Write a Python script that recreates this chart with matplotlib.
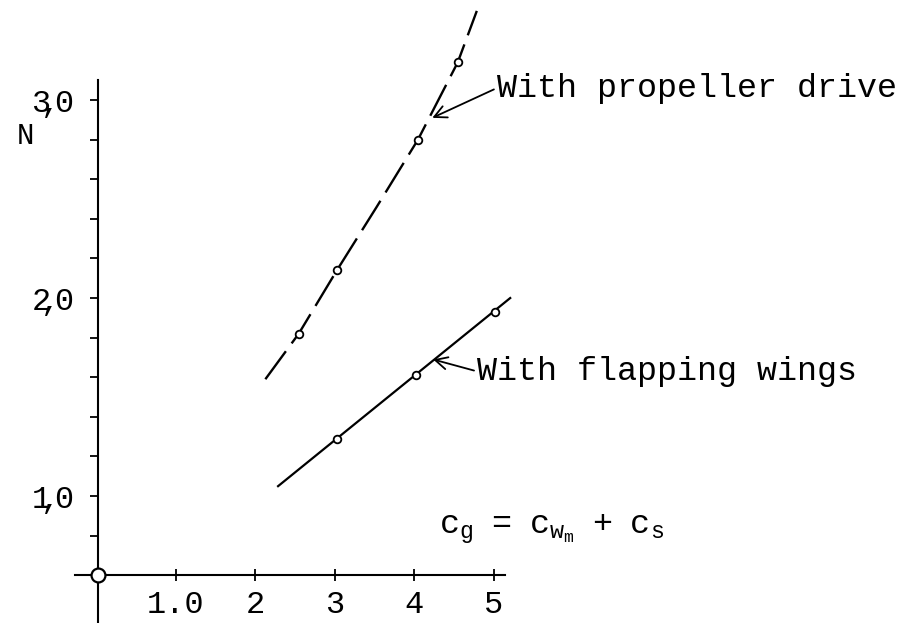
import matplotlib
matplotlib.use("Agg")
import matplotlib.pyplot as plt

plt.rcParams['font.family'] = ['Liberation Mono', 'DejaVu Sans Mono']
plt.rcParams['mathtext.fontset'] = 'custom'
plt.rcParams['mathtext.rm'] = 'Liberation Mono'
plt.rcParams['mathtext.it'] = 'Liberation Mono'
plt.rcParams['lines.scale_dashes'] = False

# with propeller drive (dashed curve), measured points and traced curve
prop_x = [2.55, 3.03, 4.05, 4.55]
prop_y = [1.82, 2.14, 2.80, 3.19]
prop_curve_x = [2.13, 2.55, 3.03, 3.53, 4.05, 4.55, 4.79]
prop_curve_y = [1.59, 1.82, 2.14, 2.46, 2.80, 3.19, 3.45]

# with flapping wings (solid line)
flap_x = [3.03, 4.03, 5.02]
flap_y = [1.29, 1.61, 1.93]
flap_line_x = [2.29, 5.21]
flap_line_y = [1.05, 2.00]

xticks = [1, 2, 3, 4, 5]
xtick_labels = ['1.0', '2', '3', '4', '5']
yticks = [1, 2, 3]
ytick_labels = [r'$\mathrm{1\!\!\!,\!\!\!0}$', r'$\mathrm{2\!\!\!,\!\!\!0}$', r'$\mathrm{3\!\!\!,\!\!\!0}$']
yminor = [0.8, 1.2, 1.4, 1.6, 1.8, 2.2, 2.4, 2.6, 2.8]

x0, y0 = 0.03, 0.6   # where the axes cross

fig = plt.figure(figsize=(9.13, 6.23), dpi=100)
ax = fig.add_axes([0, 0, 1, 1])
ax.set_xlim(-1.208, 10.277)
ax.set_ylim(0.359, 3.505)

# axes through the crossing point
for side in ['top', 'right']:
    ax.spines[side].set_visible(False)
ax.spines['left'].set_position(('data', x0))
ax.spines['bottom'].set_position(('data', y0))
ax.spines['left'].set_bounds(0.36, 3.10)
ax.spines['bottom'].set_bounds(-0.26, 5.14)
ax.spines['left'].set_linewidth(1.5)
ax.spines['bottom'].set_linewidth(1.5)

ax.set_xticks(xticks, labels=xtick_labels)
ax.set_yticks(yticks, labels=ytick_labels)
ax.set_yticks(yminor, minor=True)
ax.tick_params(axis='x', direction='inout', length=9, width=1.3, pad=6, labelsize=23)
ax.tick_params(axis='y', which='both', direction='out', length=6, width=1.3, pad=12, labelsize=23)

ax.plot([x0], [y0], 'o', ms=10, mfc='white', mec='black', mew=1.6, clip_on=False, zorder=5)

# curves
ax.plot(prop_curve_x, prop_curve_y, color='black', lw=1.7, dashes=(25, 7))
ax.plot(prop_x, prop_y, 'o', ms=5.5, mfc='white', mec='black', mew=1.3)
ax.plot(flap_line_x, flap_line_y, color='black', lw=1.6)
ax.plot(flap_x, flap_y, 'o', ms=5.5, mfc='white', mec='black', mew=1.3)

arrow = dict(arrowstyle='->', lw=1.3, color='black', mutation_scale=22,
             shrinkA=0, shrinkB=0, relpos=(0, 0.5))
ax.annotate('With propeller drive', xy=(4.23, 2.91), xytext=(5.04, 3.06),
            ha='left', va='center', fontsize=24, arrowprops=arrow)
ax.annotate('With flapping wings', xy=(4.24, 1.69), xytext=(4.79, 1.63),
            ha='left', va='center', fontsize=24, arrowprops=arrow)

ax.text(4.31, 0.83, r'$\mathrm{c_g\ \ =\ \ c_{w_m}\ \ +\ \ c_s}$', ha='left', va='center', fontsize=24)
ax.text(-0.89, 2.82, 'N', ha='center', va='center', fontsize=21)

fig.savefig('out.png', dpi=100)
